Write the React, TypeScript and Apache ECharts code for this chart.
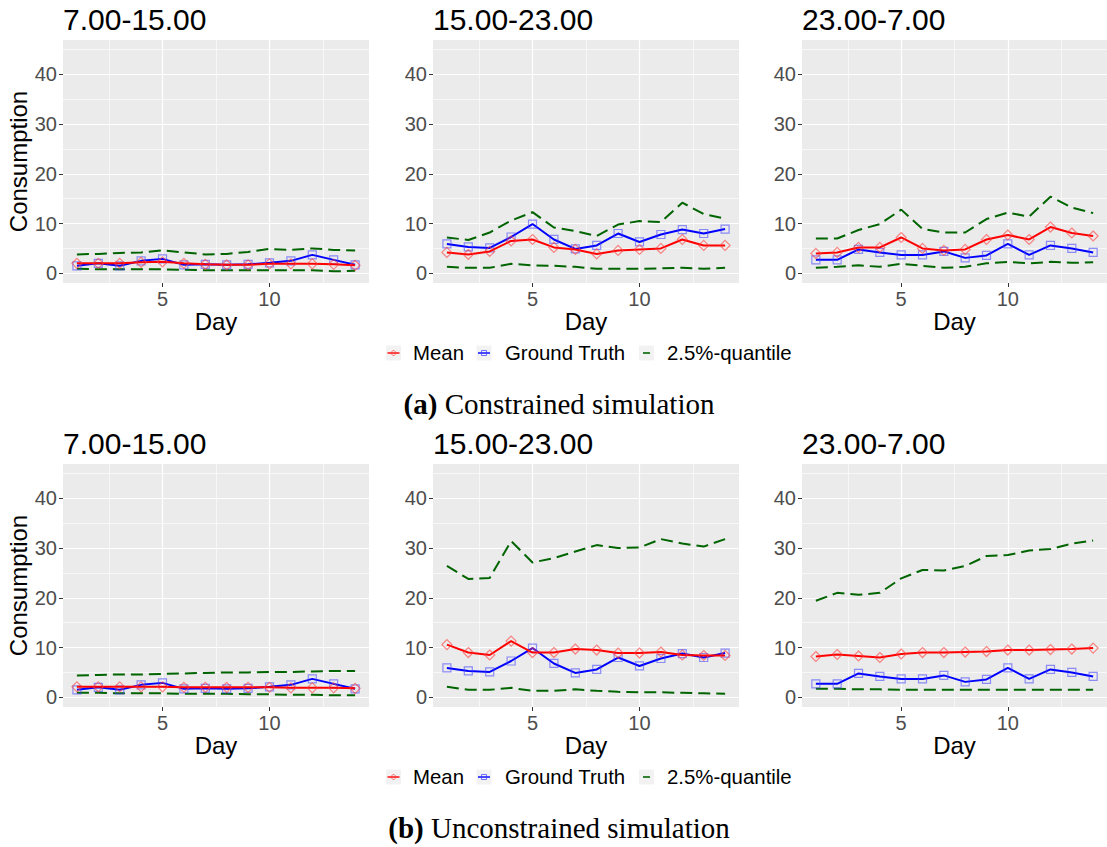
import React, { useEffect, useRef } from "react";
import * as echarts from "echarts";

// ---------- data ----------
const days = [1, 2, 3, 4, 5, 6, 7, 8, 9, 10, 11, 12, 13, 14];
const timeWindows = ["7.00-15.00", "15.00-23.00", "23.00-7.00"];
const legendLabels = ["Mean", "Ground Truth", "2.5%-quantile"];
const captionTags = ["(a)", "(b)"];
const captionTexts = ["Constrained simulation", "Unconstrained simulation"];
const xAxisTitle = "Day";
const yAxisTitle = "Consumption";
const yTicks = [0, 10, 20, 30, 40];
const yMinorTicks = [5, 15, 25, 35, 45];
const xTicks = [5, 10];
const xMinorTicks = [2.5, 7.5, 12.5];

// ground truth (same in both simulations)
const gtDay = [1.5, 2.0, 1.5, 2.5, 2.9, 1.7, 1.8, 1.7, 1.8, 2.1, 2.5, 3.7, 2.7, 1.7];
const gtEvening = [5.9, 5.3, 5.1, 7.3, 9.9, 6.8, 4.9, 5.6, 8.0, 6.3, 7.8, 8.8, 8.0, 8.9];
const gtNight = [2.7, 2.7, 4.8, 4.2, 3.7, 3.7, 4.4, 3.1, 3.6, 5.9, 3.7, 5.6, 5.0, 4.2];

// (a) constrained simulation
const meanDayA = [2.0, 2.0, 2.0, 2.2, 2.3, 2.0, 1.8, 1.7, 1.7, 1.9, 1.9, 1.9, 1.8, 1.6];
const upperDayA = [3.8, 3.9, 4.1, 4.2, 4.6, 4.2, 3.8, 3.9, 4.3, 4.9, 4.7, 5.0, 4.7, 4.6];
const lowerDayA = [0.9, 0.8, 0.8, 0.8, 0.8, 0.7, 0.6, 0.6, 0.6, 0.6, 0.6, 0.6, 0.4, 0.5];

const meanEveA = [4.2, 3.8, 4.4, 6.5, 6.8, 5.2, 4.8, 3.9, 4.6, 4.8, 5.0, 6.8, 5.6, 5.6];
const upperEveA = [7.2, 6.7, 8.2, 10.6, 12.3, 9.2, 8.5, 7.5, 9.8, 10.5, 10.3, 14.2, 11.9, 11.0];
const lowerEveA = [1.3, 1.1, 1.1, 1.9, 1.6, 1.5, 1.3, 0.9, 0.9, 0.9, 1.0, 1.1, 0.9, 1.1];

const meanNightA = [4.0, 4.2, 5.2, 5.2, 7.2, 5.0, 4.6, 4.8, 6.8, 7.7, 6.8, 9.3, 8.1, 7.5];
const upperNightA = [7.0, 7.0, 8.7, 9.9, 12.8, 8.9, 8.2, 8.2, 10.9, 12.2, 11.4, 15.4, 13.2, 12.1];
const lowerNightA = [1.1, 1.3, 1.6, 1.3, 1.9, 1.5, 1.1, 1.3, 2.0, 2.3, 2.0, 2.3, 2.1, 2.2];

// (b) unconstrained simulation
const meanDayB = [2.1, 2.1, 2.1, 2.1, 2.1, 2.0, 2.0, 2.0, 2.0, 2.0, 1.9, 1.9, 1.9, 1.8];
const upperDayB = [4.4, 4.5, 4.6, 4.6, 4.7, 4.8, 4.9, 5.0, 5.0, 5.1, 5.1, 5.2, 5.3, 5.3];
const lowerDayB = [0.9, 0.9, 0.8, 0.8, 0.8, 0.7, 0.7, 0.7, 0.6, 0.6, 0.5, 0.5, 0.4, 0.4];

const meanEveB = [10.6, 9.0, 8.5, 11.3, 9.0, 9.0, 9.7, 9.5, 8.9, 8.9, 9.1, 8.5, 8.4, 8.4];
const upperEveB = [26.4, 23.8, 24.0, 31.4, 27.1, 28.0, 29.3, 30.6, 30.0, 30.1, 31.8, 30.9, 30.3, 31.8];
const lowerEveB = [2.1, 1.5, 1.5, 1.9, 1.3, 1.3, 1.6, 1.3, 1.1, 1.0, 1.0, 0.9, 0.8, 0.7];

const meanNightB = [8.2, 8.6, 8.3, 8.0, 8.7, 9.0, 9.0, 9.1, 9.2, 9.5, 9.5, 9.6, 9.7, 9.9];
const upperNightB = [19.4, 21.0, 20.6, 21.0, 23.9, 25.6, 25.5, 26.4, 28.4, 28.6, 29.5, 29.8, 30.9, 31.5];
const lowerNightB = [1.7, 1.7, 1.6, 1.6, 1.5, 1.5, 1.5, 1.5, 1.5, 1.5, 1.5, 1.5, 1.5, 1.5];

// ---------- layout / style ----------
const W = 1107;
const H = 847;
const SANS = '"Liberation Sans", Arial, Helvetica, sans-serif';
const SERIF = '"Liberation Serif", "Times New Roman", serif';
const colLeft = [63, 433, 802];
const colWidth = [306, 306, 305];
const rowTop = [40, 464];
const rowHeight = 243;
const X_MIN = 0.35;
const X_MAX = 14.65;
const Y_MIN = -1.95;
const Y_MAX = 46.9;
const RED = "#FF0000";
const BLUE = "#0000FF";
const GREEN = "#006400";

const legendKeyX = [393.5, 484, 646.5];
const legendTextX = [413, 505, 667];
const DIAMOND = "path://M5,0L10,5L5,10L0,5Z";

function pairs(vals: number[]) {
  return days.map((d, i) => [d, vals[i]]);
}

function buildOption() {
  const gt = [gtDay, gtEvening, gtNight];
  const rows = [
    { mean: [meanDayA, meanEveA, meanNightA], upper: [upperDayA, upperEveA, upperNightA], lower: [lowerDayA, lowerEveA, lowerNightA] },
    { mean: [meanDayB, meanEveB, meanNightB], upper: [upperDayB, upperEveB, upperNightB], lower: [lowerDayB, lowerEveB, lowerNightB] },
  ];

  const grid: any[] = [];
  const xAxis: any[] = [];
  const yAxis: any[] = [];
  const series: any[] = [];
  const elements: any[] = [];

  rows.forEach((row, r) => {
    for (let c = 0; c < 3; c++) {
      const idx = r * 3 + c;
      grid.push({
        left: colLeft[c],
        top: rowTop[r],
        width: colWidth[c],
        height: rowHeight,
        show: true,
        backgroundColor: "#EBEBEB",
        borderWidth: 0,
      });
      xAxis.push({
        type: "value",
        gridIndex: idx,
        min: X_MIN,
        max: X_MAX,
        name: xAxisTitle,
        nameLocation: "middle",
        nameGap: 24,
        nameTextStyle: { fontSize: 24, color: "#000", fontFamily: SANS },
        axisLine: { show: false, onZero: false },
        splitLine: { show: false },
        axisTick: { show: true, customValues: xTicks, length: 4, lineStyle: { color: "#333333", width: 1 } },
        axisLabel: { customValues: xTicks, fontSize: 20, color: "#4D4D4D", margin: 6, fontFamily: SANS },
      });
      yAxis.push({
        type: "value",
        gridIndex: idx,
        min: Y_MIN,
        max: Y_MAX,
        name: c === 0 ? yAxisTitle : "",
        nameLocation: "middle",
        nameGap: 32,
        nameTextStyle: { fontSize: 24, color: "#000", fontFamily: SANS },
        axisLine: { show: false, onZero: false },
        splitLine: { show: false },
        axisTick: { show: true, customValues: yTicks, length: 4, lineStyle: { color: "#333333", width: 1 } },
        axisLabel: { customValues: yTicks, fontSize: 20, color: "#4D4D4D", margin: 6, fontFamily: SANS },
      });

      const gridLines = [
        ...yMinorTicks.map((v) => ({ yAxis: v, lineStyle: { width: 0.6 } })),
        ...xMinorTicks.map((v) => ({ xAxis: v, lineStyle: { width: 0.6 } })),
        ...yTicks.map((v) => ({ yAxis: v })),
        ...xTicks.map((v) => ({ xAxis: v })),
      ];

      series.push({
        type: "line",
        name: legendLabels[2],
        xAxisIndex: idx,
        yAxisIndex: idx,
        data: pairs(row.lower[c]),
        symbol: "none",
        z: 2,
        lineStyle: { color: GREEN, width: 2, type: [12, 6] },
        markLine: {
          silent: true,
          z: 1,
          symbol: ["none", "none"],
          animation: false,
          label: { show: false },
          emphasis: { disabled: true },
          lineStyle: { color: "#FFFFFF", type: "solid", width: 1.2 },
          data: gridLines,
        },
      });
      series.push({
        type: "line",
        name: legendLabels[2],
        xAxisIndex: idx,
        yAxisIndex: idx,
        data: pairs(row.upper[c]),
        symbol: "none",
        z: 2,
        lineStyle: { color: GREEN, width: 2, type: [12, 6] },
      });
      series.push({
        type: "line",
        name: legendLabels[1],
        xAxisIndex: idx,
        yAxisIndex: idx,
        data: pairs(gt[c]),
        symbol: "rect",
        symbolSize: 8,
        z: 3,
        itemStyle: { color: "rgba(0,0,0,0)", borderColor: "rgba(60,60,255,0.55)", borderWidth: 1.2 },
        lineStyle: { color: BLUE, width: 2 },
      });
      series.push({
        type: "line",
        name: legendLabels[0],
        xAxisIndex: idx,
        yAxisIndex: idx,
        data: pairs(row.mean[c]),
        symbol: DIAMOND,
        symbolSize: 10,
        z: 4,
        itemStyle: { color: "rgba(0,0,0,0)", borderColor: "rgba(255,60,60,0.6)", borderWidth: 1.2 },
        lineStyle: { color: RED, width: 2 },
      });

      // panel title
      elements.push({
        type: "text",
        x: colLeft[c],
        y: rowTop[r] - 21,
        z: 100,
        silent: true,
        style: {
          text: timeWindows[c],
          fontSize: 30,
          fontFamily: SANS,
          fill: "#000",
          align: "left",
          verticalAlign: "middle",
        },
      });
    }

    // legend
    const ly = rowTop[r] + rowHeight + 70;
    const colors = [RED, BLUE, GREEN];
    for (let k = 0; k < 3; k++) {
      const kx = legendKeyX[k];
      elements.push({
        type: "rect",
        silent: true,
        shape: { x: kx - 7.5, y: ly - 7.5, width: 15, height: 15 },
        style: { fill: "#F2F2F2" },
      });
      if (k < 2) {
        elements.push({
          type: "line",
          silent: true,
          shape: { x1: kx - 6, y1: ly, x2: kx + 6, y2: ly },
          style: { stroke: colors[k], lineWidth: 1.4 },
        });
      } else {
        elements.push({
          type: "line",
          silent: true,
          shape: { x1: kx - 3.5, y1: ly, x2: kx + 3.5, y2: ly },
          style: { stroke: colors[k], lineWidth: 1.6 },
        });
      }
      if (k === 0) {
        elements.push({
          type: "polygon",
          silent: true,
          shape: { points: [[kx, ly - 3], [kx + 3, ly], [kx, ly + 3], [kx - 3, ly]] },
          style: { fill: "none", stroke: "rgba(255,60,60,0.7)", lineWidth: 1 },
        });
      } else if (k === 1) {
        elements.push({
          type: "rect",
          silent: true,
          shape: { x: kx - 2.5, y: ly - 2.5, width: 5, height: 5 },
          style: { fill: "none", stroke: "rgba(60,60,255,0.7)", lineWidth: 1 },
        });
      }
      elements.push({
        type: "text",
        silent: true,
        x: legendTextX[k],
        y: ly,
        style: {
          text: legendLabels[k],
          fontSize: 20.4,
          fontFamily: SANS,
          fill: "#000",
          align: "left",
          verticalAlign: "middle",
        },
      });
    }

    // caption
    elements.push({
      type: "text",
      silent: true,
      x: 559,
      y: r === 0 ? 404 : 828,
      style: {
        text: "{b|" + captionTags[r] + "} " + captionTexts[r],
        fontSize: 29,
        fontFamily: SERIF,
        fill: "#000",
        align: "center",
        verticalAlign: "middle",
        rich: {
          b: { fontSize: 29, fontFamily: SERIF, fontWeight: "bold", fill: "#000" },
        },
      },
    });
  });

  return {
    animation: false,
    backgroundColor: "#FFFFFF",
    textStyle: { fontFamily: SANS },
    grid,
    xAxis,
    yAxis,
    series,
    graphic: { elements },
  };
}

export default function App() {
  const ref = useRef<HTMLDivElement>(null);
  useEffect(() => {
    document.body.style.margin = "0";
    if (!ref.current) return;
    const chart = echarts.init(ref.current, undefined, { renderer: "svg" });
    chart.setOption(buildOption() as any);
    return () => chart.dispose();
  }, []);
  return (
    <div
      ref={ref}
      style={{ position: "absolute", left: 0, top: 0, width: W, height: H }}
    />
  );
}
